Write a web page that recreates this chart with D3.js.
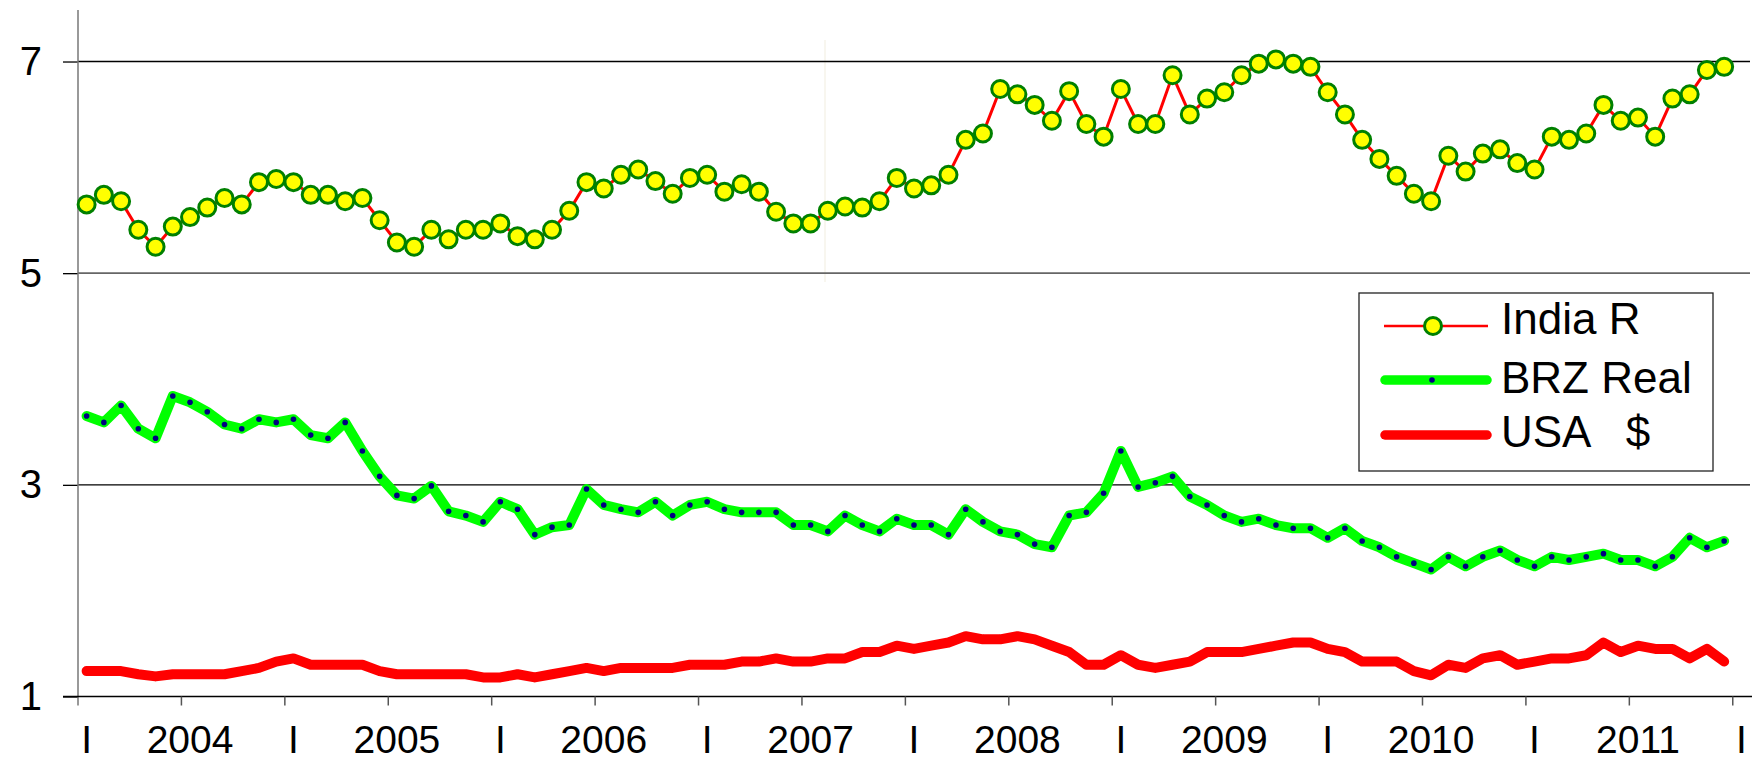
<!DOCTYPE html>
<html><head><meta charset="utf-8">
<script src="https://cdn.jsdelivr.net/npm/d3@7"></script>
<style>
html,body{margin:0;padding:0;background:#fff;}
svg{display:block;font-family:"Liberation Sans",Arial,sans-serif;}
</style></head>
<body>
<svg id="chart" width="1753" height="762"></svg>
<script>
// ---- data (monthly, Jan 2004 .. Dec 2011) ----
const years = [2004, 2005, 2006, 2007, 2008, 2009, 2010, 2011];
const xTickLabels = ["I","2004","I","2005","I","2006","I","2007","I","2008","I","2009","I","2010","I","2011","I"];
const yTicks = [1, 3, 5, 7];
const seriesNames = ["India R", "BRZ Real", "USA   $"];

const indiaR = [
  5.65,5.74,5.68,5.41,5.25,5.44,5.53,5.62,5.71,5.65,5.86,5.89,
  5.86,5.74,5.74,5.68,5.71,5.50,5.29,5.25,5.41,5.32,5.41,5.41,
  5.47,5.35,5.32,5.41,5.59,5.86,5.80,5.93,5.98,5.87,5.75,5.90,
  5.93,5.77,5.84,5.77,5.58,5.47,5.47,5.59,5.63,5.62,5.68,5.90,
  5.80,5.83,5.93,6.26,6.32,6.74,6.69,6.59,6.44,6.72,6.41,6.29,
  6.74,6.41,6.41,6.87,6.50,6.65,6.71,6.87,6.98,7.02,6.98,6.95,
  6.71,6.50,6.26,6.08,5.92,5.75,5.68,6.11,5.96,6.13,6.17,6.04,
  5.98,6.29,6.26,6.32,6.59,6.44,6.47,6.29,6.65,6.69,6.92,6.95
];
const brzReal = [
  3.65,3.59,3.75,3.53,3.44,3.84,3.78,3.69,3.57,3.53,3.62,3.59,
  3.62,3.47,3.44,3.59,3.32,3.08,2.90,2.87,2.99,2.75,2.71,2.65,
  2.84,2.77,2.53,2.60,2.62,2.96,2.81,2.77,2.74,2.84,2.71,2.81,
  2.84,2.77,2.74,2.74,2.74,2.62,2.62,2.56,2.71,2.62,2.56,2.68,
  2.62,2.62,2.53,2.77,2.65,2.56,2.53,2.44,2.41,2.71,2.74,2.92,
  3.32,2.98,3.02,3.08,2.89,2.81,2.71,2.65,2.68,2.62,2.59,2.59,
  2.50,2.59,2.47,2.41,2.32,2.26,2.20,2.32,2.23,2.32,2.38,2.29,
  2.23,2.32,2.29,2.32,2.35,2.29,2.29,2.23,2.32,2.50,2.41,2.47
];
const usaDollar = [
  1.24,1.24,1.24,1.21,1.19,1.21,1.21,1.21,1.21,1.24,1.27,1.33,
  1.36,1.30,1.30,1.30,1.30,1.24,1.21,1.21,1.21,1.21,1.21,1.18,
  1.18,1.21,1.18,1.21,1.24,1.27,1.24,1.27,1.27,1.27,1.27,1.30,
  1.30,1.30,1.33,1.33,1.36,1.33,1.33,1.36,1.36,1.42,1.42,1.48,
  1.45,1.48,1.51,1.57,1.54,1.54,1.57,1.54,1.48,1.42,1.30,1.30,
  1.39,1.30,1.27,1.30,1.33,1.42,1.42,1.42,1.45,1.48,1.51,1.51,
  1.45,1.42,1.33,1.33,1.33,1.24,1.20,1.30,1.27,1.36,1.39,1.30,
  1.33,1.36,1.36,1.39,1.51,1.42,1.48,1.45,1.45,1.36,1.45,1.33
];

// ---- layout ----
const svg = d3.select("#chart");
const padL = 78, padR = 1750, padT = 8.6, padB = 696.5;
const nCats = years.length * 12 + 1; // one trailing empty category
const x = d3.scaleBand().domain(d3.range(nCats)).range([padL, padR]).paddingInner(0).paddingOuter(0);
const cx = i => x(i) + x.bandwidth() / 2;
const y = d3.scaleLinear().domain([1, 7.5]).range([padB, padT]);

// faint artifact line
svg.append("line").attr("x1", 825).attr("x2", 825).attr("y1", 40).attr("y2", 282)
  .attr("stroke", "#f6f3ea").attr("stroke-width", 1.5);

// y ticks + labels
const yAxis = d3.axisLeft(y).tickValues(yTicks).tickSize(15).tickFormat(d3.format("d"));
const gy = svg.append("g").attr("transform", `translate(${padL},0)`).call(yAxis);
gy.select(".domain").remove();
gy.selectAll(".tick line").attr("stroke", "#000").attr("stroke-width", 1.3);
gy.selectAll(".tick text").attr("font-size", 40).attr("fill", "#000")
  .attr("x", -36).attr("dy", null).attr("y", 13).attr("text-anchor", "end")
  .attr("font-family", "Liberation Sans, Arial, sans-serif");

// gridlines
svg.append("g").selectAll("line").data(yTicks.filter(d => d > 1)).join("line")
  .attr("x1", padL).attr("x2", padR)
  .attr("y1", d => y(d)).attr("y2", d => y(d))
  .attr("stroke", d => d === 5 ? "#666" : "#000").attr("stroke-width", d => d === 5 ? 1.8 : 1.3);

// y axis line
svg.append("line").attr("x1", padL).attr("x2", padL).attr("y1", 10).attr("y2", padB + 9)
  .attr("stroke", "#777").attr("stroke-width", 1.5);

// x axis
const tickIdx = d3.range(0, nCats, 6);
svg.append("line").attr("x1", padL - 15).attr("x2", padR + 2).attr("y1", padB).attr("y2", padB)
  .attr("stroke", "#000").attr("stroke-width", 1.5);
svg.append("g").selectAll("line").data(tickIdx.slice(1)).join("line")
  .attr("x1", d => x(d)).attr("x2", d => x(d))
  .attr("y1", padB).attr("y2", padB + 9)
  .attr("stroke", "#555").attr("stroke-width", 1.5);
svg.append("g").selectAll("text").data(tickIdx).join("text")
  .attr("x", d => cx(d)).attr("y", 753)
  .attr("text-anchor", "middle").attr("font-size", 39).attr("fill", "#000")
  .text((d, i) => xTickLabels[i]);

// USA line
const line = d3.line().x((d, i) => cx(i)).y(d => y(d));
svg.append("path").datum(usaDollar).attr("d", line)
  .attr("fill", "none").attr("stroke", "#ff0000").attr("stroke-width", 10)
  .attr("stroke-linejoin", "round").attr("stroke-linecap", "round");

// BRZ line + dots
svg.append("path").datum(brzReal).attr("d", line)
  .attr("fill", "none").attr("stroke", "#00ff00").attr("stroke-width", 10)
  .attr("stroke-linejoin", "round").attr("stroke-linecap", "round");
svg.append("g").selectAll("circle").data(brzReal).join("circle")
  .attr("cx", (d, i) => cx(i)).attr("cy", d => y(d)).attr("r", 2.8).attr("fill", "#000080");

// India line + markers
svg.append("path").datum(indiaR).attr("d", line)
  .attr("fill", "none").attr("stroke", "#ff0000").attr("stroke-width", 3);
svg.append("g").selectAll("circle").data(indiaR).join("circle")
  .attr("cx", (d, i) => cx(i)).attr("cy", d => y(d)).attr("r", 8.5)
  .attr("fill", "#ffff00").attr("stroke", "#008000").attr("stroke-width", 3);

// legend
const lg = svg.append("g");
lg.append("rect").attr("x", 1359).attr("y", 293).attr("width", 354).attr("height", 178)
  .attr("fill", "#fff").attr("stroke", "#222").attr("stroke-width", 1.3);
const rowY = [326, 380, 435], textY = [334, 393, 447];
lg.append("line").attr("x1", 1384).attr("x2", 1488).attr("y1", rowY[0]).attr("y2", rowY[0])
  .attr("stroke", "#ff0000").attr("stroke-width", 2.5);
lg.append("circle").attr("cx", 1433).attr("cy", rowY[0]).attr("r", 8.5)
  .attr("fill", "#ffff00").attr("stroke", "#008000").attr("stroke-width", 3);
lg.append("line").attr("x1", 1385).attr("x2", 1487).attr("y1", rowY[1]).attr("y2", rowY[1])
  .attr("stroke", "#00ff00").attr("stroke-width", 9.5).attr("stroke-linecap", "round");
lg.append("circle").attr("cx", 1432).attr("cy", rowY[1]).attr("r", 2.8).attr("fill", "#000080");
lg.append("line").attr("x1", 1385).attr("x2", 1487).attr("y1", rowY[2]).attr("y2", rowY[2])
  .attr("stroke", "#ff0000").attr("stroke-width", 9.5).attr("stroke-linecap", "round");
lg.selectAll("text.lbl").data(seriesNames).join("text").attr("class", "lbl")
  .attr("x", 1501).attr("y", (d, i) => textY[i])
  .attr("font-size", 44).attr("fill", "#000")
  .style("white-space", "pre")
  .text(d => d);
</script>
</body></html>
